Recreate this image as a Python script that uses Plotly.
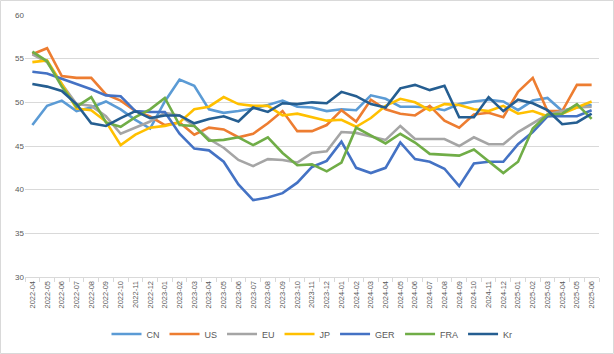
import plotly.graph_objects as go

months = ["2022-04","2022-05","2022-06","2022-07","2022-08","2022-09","2022-10","2022-11","2022-12",
          "2023-01","2023-02","2023-03","2023-04","2023-05","2023-06","2023-07","2023-08","2023-09","2023-10","2023-11","2023-12",
          "2024-01","2024-02","2024-03","2024-04","2024-05","2024-06","2024-07","2024-08","2024-09","2024-10","2024-11","2024-12",
          "2025-01","2025-02","2025-03","2025-04","2025-05","2025-06"]

CN = [47.4, 49.6, 50.2, 49.0, 49.4, 50.1, 49.2, 48.0, 47.0, 50.1, 52.6, 51.9, 49.2, 48.8, 49.0, 49.3, 49.7, 50.2, 49.5, 49.4,
      49.0, 49.2, 49.1, 50.8, 50.4, 49.5, 49.5, 49.4, 49.1, 49.8, 50.1, 50.3, 50.1, 49.1, 50.2, 50.5, 49.0, 49.5, 49.7]
US = [55.5, 56.2, 53.0, 52.8, 52.8, 50.9, 50.2, 49.0, 48.4, 47.4, 47.7, 46.3, 47.1, 46.9, 46.0, 46.4, 47.6, 49.0, 46.7, 46.7,
      47.4, 49.1, 47.8, 50.3, 49.2, 48.7, 48.5, 49.6, 47.9, 47.1, 48.6, 48.8, 48.3, 51.2, 52.8, 49.0, 49.0, 52.0, 52.0]
EU = [55.5, 54.6, 52.1, 49.8, 49.6, 48.4, 46.4, 47.1, 47.8, 48.8, 48.5, 47.3, 45.8, 44.8, 43.4, 42.7, 43.5, 43.4, 43.1, 44.2,
      44.4, 46.6, 46.5, 46.1, 45.7, 47.3, 45.8, 45.8, 45.8, 45.0, 46.0, 45.2, 45.2, 46.6, 47.6, 48.6, 49.0, 49.4, 49.5]
JP = [54.6, 54.8, 52.1, 49.3, 49.1, 47.8, 45.1, 46.3, 47.1, 47.3, 47.7, 49.2, 49.5, 50.6, 49.8, 49.6, 49.6, 48.5, 48.7, 48.3,
      47.9, 48.0, 47.2, 48.2, 49.6, 50.4, 50.0, 49.1, 49.8, 49.7, 49.2, 49.0, 49.6, 48.7, 49.0, 48.4, 48.7, 49.4, 50.1]
GER = [53.5, 53.3, 52.7, 52.1, 51.5, 50.8, 50.7, 49.0, 48.9, 48.9, 46.4, 44.7, 44.5, 43.2, 40.6, 38.8, 39.1, 39.6, 40.8, 42.6,
       43.3, 45.5, 42.5, 41.9, 42.5, 45.4, 43.5, 43.2, 42.4, 40.4, 43.0, 43.2, 43.2, 45.2, 46.6, 48.4, 48.4, 48.4, 49.1]
FRA = [55.8, 54.7, 51.8, 49.5, 50.6, 47.7, 47.2, 48.3, 49.2, 50.5, 47.4, 47.3, 45.6, 45.7, 46.0, 45.1, 46.0, 44.2, 42.8, 42.9,
       42.1, 43.1, 47.1, 46.2, 45.3, 46.4, 45.4, 44.1, 44.0, 43.9, 44.6, 43.2, 41.9, 43.2, 47.0, 48.6, 48.7, 49.8, 48.1]
Kr = [52.1, 51.8, 51.3, 49.8, 47.6, 47.3, 48.2, 49.0, 48.2, 48.5, 48.5, 47.6, 48.1, 48.4, 47.8, 49.4, 48.9, 49.9, 49.8, 50.0,
      49.9, 51.2, 50.7, 49.8, 49.4, 51.6, 52.0, 51.4, 51.9, 48.3, 48.3, 50.6, 49.0, 50.3, 49.9, 49.1, 47.5, 47.7, 48.7]

series = [("CN", CN, "#5B9BD5"), ("US", US, "#ED7D31"), ("EU", EU, "#A5A5A5"), ("JP", JP, "#FFC000"),
          ("GER", GER, "#4472C4"), ("FRA", FRA, "#70AD47"), ("Kr", Kr, "#255E91")]

fig = go.Figure()
for name, vals, col in series:
    fig.add_trace(go.Scatter(x=months, y=vals, name=name, mode="lines",
                             line=dict(color=col, width=2.6)))

W, H = 614, 354
ml, mr, mt, mb = 25, 15, 15, 77
pw, ph = W - ml - mr, H - mt - mb

fig.update_layout(
    width=W, height=H,
    margin=dict(l=ml, r=mr, t=mt, b=mb, autoexpand=False),
    paper_bgcolor="white", plot_bgcolor="white",
    font=dict(family="Liberation Sans, Arial, sans-serif", color="#595959"),
    showlegend=True,
    legend=dict(orientation="h", x=0.5, xanchor="center", y=-(334 - 277) / ph, yanchor="middle",
                font=dict(size=9, color="#595959"), itemwidth=30, tracegroupgap=0),
    xaxis=dict(type="category", range=[-0.5, len(months) - 0.5], tickangle=-90, automargin=False,
               tickfont=dict(size=7.5, color="#595959"), showgrid=False,
               ticks="outside", tickson="boundaries", ticklen=4, tickcolor="#D9D9D9",
               showline=True, linecolor="#D9D9D9", linewidth=1, zeroline=False),
    yaxis=dict(range=[30, 60], dtick=5, tickfont=dict(size=8, color="#595959"), automargin=False,
               showgrid=True, gridcolor="#D9D9D9", gridwidth=1, zeroline=False,
               showline=False, ticks=""),
    shapes=[dict(type="rect", xref="paper", yref="paper",
                 x0=(0.5 - ml) / pw, x1=(W - 0.5 - ml) / pw,
                 y0=-(mb - 0.5) / ph, y1=1 + (mt - 0.5) / ph,
                 line=dict(color="#D9D9D9", width=1), fillcolor="rgba(0,0,0,0)", layer="below")],
)

fig.write_html("out.html")
